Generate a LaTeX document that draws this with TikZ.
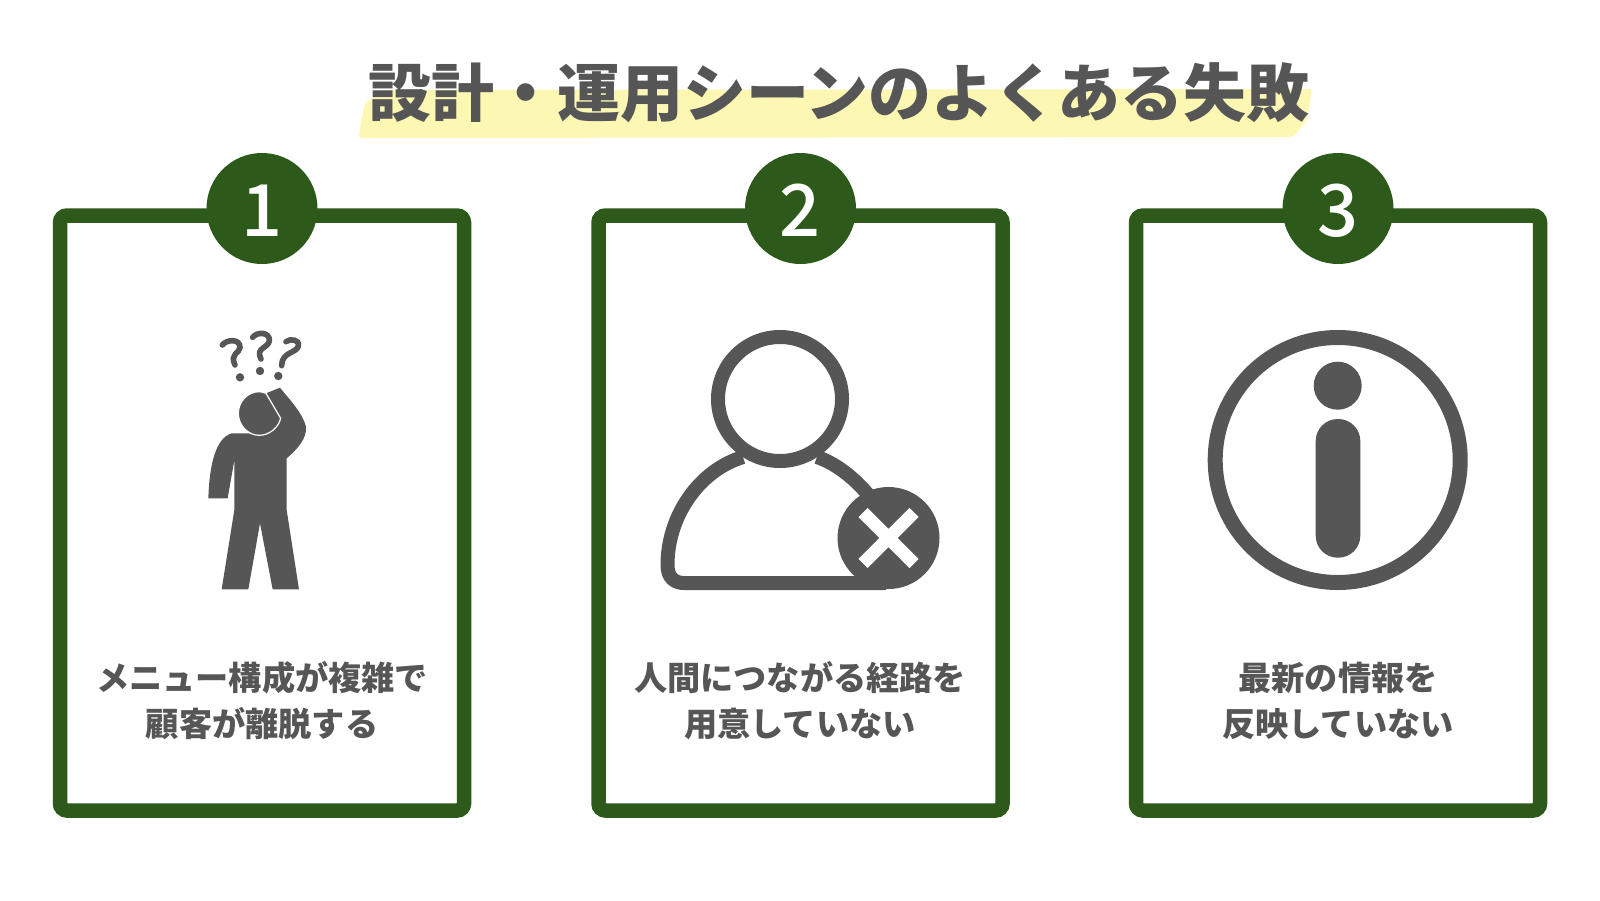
\documentclass[tikz,border=0pt]{standalone}
\usepackage{fontspec}
\newfontfamily\jp{Noto Sans CJK JP}
\newfontfamily\jpm{Noto Sans CJK JP Medium}
\definecolor{grn}{HTML}{2D5A1A}
\definecolor{ink}{HTML}{565656}
\definecolor{hilite}{HTML}{FDF7B4}
\tikzset{
 card/.style={draw=grn,line width=14.5pt,rounded corners=7pt,fill=white,minimum width=404pt,minimum height=595pt,inner sep=0pt},
 badge/.style={circle,fill=grn,minimum size=111pt,inner sep=0pt,text=white,font=\jpm\fontsize{72}{72}\selectfont},
 caption/.style={align=center,text=ink,font=\jp\bfseries\fontsize{33.2}{46}\selectfont},
 titletext/.style={text=ink,font=\jp\bfseries\fontsize{63}{63}\selectfont},
 qmark/.style={ink,line width=5.6pt,line cap=round}
}
\begin{document}
\begin{tikzpicture}[x=1pt,y=-1pt]
\useasboundingbox (0,0) rectangle (1600,900);
\fill[white] (0,0) rectangle (1600,900);
\fill[hilite,rounded corners=3pt] (365,103) -- (385,90) -- (1312,89) -- (1307,120) -- (1293,137) -- (359,138) -- (361,122) -- cycle;
\node[titletext] (title) at (839,93) {設計・運用シーンのよくある失敗};
\foreach \x/\n/\l in {262/1/a,800.5/2/b,1338/3/c}{
 \node[card] (card\l) at (\x,513) {};
 \node[badge] (badge\l) at (\x,208.5) {\raisebox{-28pt}[0pt][0pt]{\n}};
}
\node[caption] (t1) at (262,701) {メニュー構成が複雑で\\顧客が離脱する};
\node[caption] (t2) at (800,701) {人間につながる経路を\\用意していない};
\node[caption] (t3) at (1338,701) {最新の情報を\\反映していない};
% person icon (coordinates of a 3x crop)
\begin{scope}[shift={(190,310)},x=0.3333pt,y=-0.3333pt]
 \fill[ink] (55,565) .. controls (58,470) and (75,385) .. (125,370) -- (200,370) -- (260,320) -- (228,250) -- (270,233)
   .. controls (300,270) and (338,310) .. (348,350) .. controls (352,385) and (320,420) .. (290,445)
   -- (290,600) -- (327,838) -- (248,838) -- (210,640) -- (175,838) -- (95,838) -- (133,600) -- (133,450) -- (113,565) -- cycle;
 \filldraw[fill=ink,draw=white,line width=1.2pt] (228,250) .. controls (221,248) and (215,245) .. (208,245) .. controls (173,245) and (145,275) .. (145,310) .. controls (145,345) and (173,376) .. (208,376) .. controls (238,376) and (266,352) .. (272,325) -- cycle;
 \draw[qmark] (97,105) .. controls (110,88) and (150,85) .. (150,112) .. controls (150,130) and (118,130) .. (135,165);
 \draw[qmark] (188,82) .. controls (200,65) and (240,65) .. (238,92) .. controls (236,115) and (195,112) .. (213,147);
 \draw[qmark] (288,95) .. controls (300,85) and (330,88) .. (325,108) .. controls (320,130) and (275,125) .. (275,167);
 \fill[ink] (150,202) circle (4.2pt);
 \fill[ink] (210,183) circle (4.2pt);
 \fill[ink] (265,198) circle (4.2pt);
\end{scope}
% user icon
\draw[ink,line width=14pt] (780,399) circle (62pt);
\draw[ink,line width=14pt,line join=round] (743,457) .. controls (700,470) and (667.5,515) .. (667.5,565) .. controls (667.5,578) and (675,583) .. (684,583) -- (886,583);
\draw[ink,line width=14pt] (817,457) .. controls (835,463) and (855,478) .. (870,497);
\fill[ink] (888.5,538) circle (51pt);
\draw[white,line width=13pt] (863,512.5) -- (914,563.5) (914,512.5) -- (863,563.5);
% info icon
\draw[ink,line width=15pt] (1337.7,460) circle (122.5pt);
\fill[ink] (1337.7,385.7) circle (24pt);
\fill[ink,rounded corners=22pt] (1315.7,419) rectangle (1360.3,557.7);
\end{tikzpicture}
\end{document}
